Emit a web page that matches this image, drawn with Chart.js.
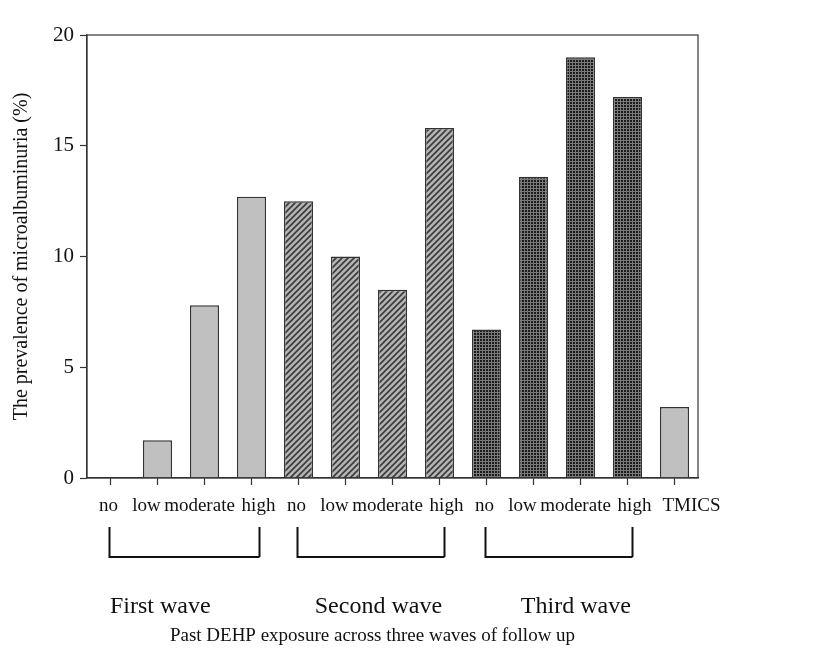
<!DOCTYPE html>
<html>
    <head>
        <title>Microalbuminuria</title>
        <meta charset="utf-8">
        <script src="https://cdn.jsdelivr.net/npm/chart.js"></script>
        <style>
          body { margin: 0; background: #fff; }
          #wrap { width: 828px; height: 658px; }
        </style>
    </head>
    <body>
        <div id="wrap"><canvas id="barChart" width="828" height="658"></canvas></div>
        <script>
            // exposure level for each bar, three waves then the reference group
            const categories = ["no", "low", "moderate", "high", "no", "low", "moderate", "high", "no", "low", "moderate", "high", "TMICS"];
            const prevalence = [0, 1.7, 7.8, 12.7, 12.5, 10.0, 8.5, 15.8, 6.7, 13.6, 19.0, 17.2, 3.2];
            const waveOf = [0, 0, 0, 0, 1, 1, 1, 1, 2, 2, 2, 2, 3];
            const waveLabels = ["First wave", "Second wave", "Third wave"];
            const yTicks = [0, 5, 10, 15, 20];
            const yTitle = "The prevalence of microalbuminuria (%)";
            const xTitle = "Past DEHP exposure across three waves of follow up";

            const serif = "'Liberation Serif', 'DejaVu Serif', serif";

            function makeTile(size, draw) {
                const c = document.createElement("canvas");
                c.width = size; c.height = size;
                const g = c.getContext("2d");
                draw(g);
                return g.createPattern(c, "repeat");
            }

            // hatched bars of the second wave
            const hatch = makeTile(6, g => {
                g.fillStyle = "#b4b4b4";
                g.fillRect(0, 0, 6, 6);
                g.strokeStyle = "#3a3a3a";
                g.lineWidth = 1.6;
                g.beginPath();
                g.moveTo(-1, 7); g.lineTo(7, -1);
                g.moveTo(-4, 4); g.lineTo(4, -4);
                g.moveTo(2, 10); g.lineTo(10, 2);
                g.stroke();
            });

            // dark dotted bars of the third wave
            const dots = makeTile(3, g => {
                g.fillStyle = "#1c1c1c";
                g.fillRect(0, 0, 3, 3);
                g.fillStyle = "#7a7a7a";
                g.fillRect(2, 0, 1, 3);
                g.fillRect(0, 2, 3, 1);
            });

            const fills = ["#c0c0c0", hatch, dots, "#c0c0c0"];

            const decorations = {
                id: "decorations",
                afterDraw(chart) {
                    const { ctx, chartArea: a, scales: { x } } = chart;
                    ctx.save();
                    // frame around the plot
                    ctx.strokeStyle = "#333";
                    ctx.lineWidth = 1.2;
                    ctx.strokeRect(a.left, a.top, a.right - a.left, a.bottom - a.top);

                    // category labels, set a little off centre like the original
                    ctx.fillStyle = "#111";
                    ctx.textBaseline = "middle";
                    ctx.textAlign = "center";
                    ctx.font = "19px " + serif;
                    const nudge = [-2, -11, -5, 7];
                    categories.forEach((label, i) => {
                        const dx = waveOf[i] < 3 ? nudge[i % 4] : 17;
                        ctx.fillText(label, x.getPixelForValue(i) + dx, a.bottom + 28);
                    });

                    // brackets under each wave
                    ctx.lineWidth = 2;
                    ctx.strokeStyle = "#111";
                    const bracketTop = a.bottom + 49;
                    const bracketBottom = a.bottom + 79;
                    const rightPad = [8, 5, 5];
                    waveLabels.forEach((label, w) => {
                        const idx = waveOf.map((v, i) => v === w ? i : -1).filter(i => i >= 0);
                        const x0 = x.getPixelForValue(idx[0]) - 1;
                        const x1 = x.getPixelForValue(idx[idx.length - 1]) + rightPad[w];
                        ctx.beginPath();
                        ctx.moveTo(x0, bracketTop);
                        ctx.lineTo(x0, bracketBottom);
                        ctx.lineTo(x1, bracketBottom);
                        ctx.moveTo(x1, bracketTop);
                        ctx.lineTo(x1, bracketBottom);
                        ctx.stroke();
                    });

                    // wave names
                    ctx.font = "24px " + serif;
                    const nameShift = [1.06, 1.7, 1.9];
                    waveLabels.forEach((label, w) => {
                        const first = waveOf.indexOf(w);
                        ctx.fillText(label, x.getPixelForValue(first + nameShift[w]), a.bottom + 129);
                    });

                    // axis title
                    ctx.font = "19px " + serif;
                    ctx.fillText(xTitle, (a.left + a.right) / 2 - 20, a.bottom + 158);
                    ctx.restore();
                }
            };

            new Chart(document.getElementById("barChart"), {
                type: "bar",
                data: {
                    labels: categories,
                    datasets: [{
                        data: prevalence,
                        backgroundColor: waveOf.map(w => fills[w]),
                        borderColor: "#333",
                        borderWidth: 1.5,
                        barPercentage: 0.62,
                        categoryPercentage: 1.0
                    }]
                },
                options: {
                    responsive: false,
                    animation: false,
                    layout: { padding: { left: 10, top: 35, right: 130, bottom: 0 } },
                    plugins: {
                        legend: { display: false },
                        tooltip: { enabled: false }
                    },
                    scales: {
                        x: {
                            grid: { offset: false, drawOnChartArea: false, tickLength: 7, color: "#333", tickWidth: 1.2 },
                            border: { color: "#333", width: 1.2 },
                            ticks: { display: false, autoSkip: false },
                            afterFit: s => { s.height = 180; }
                        },
                        y: {
                            min: 0,
                            max: 20,
                            afterBuildTicks: s => { s.ticks = yTicks.map(v => ({ value: v })); },
                            grid: { drawOnChartArea: false, tickLength: 7, color: "#333", tickWidth: 1.2 },
                            border: { color: "#333", width: 1.2 },
                            ticks: { color: "#111", padding: 6, font: { family: serif, size: 21 } },
                            title: { display: true, text: yTitle, color: "#111", padding: { top: 0, bottom: 4 }, font: { family: serif, size: 20 } },
                            afterFit: s => { s.width = 77; }
                        }
                    }
                },
                plugins: [decorations]
            });
        </script>
    </body>
</html>
